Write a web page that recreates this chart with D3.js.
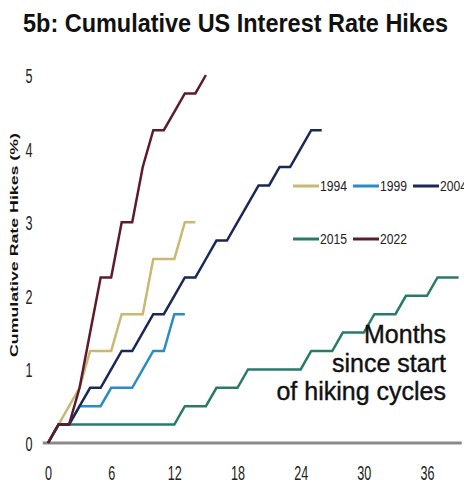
<!DOCTYPE html>
<html>
<head>
<meta charset="utf-8">
<script src="https://cdn.jsdelivr.net/npm/d3@7"></script>
<style>
  html, body { margin: 0; padding: 0; background: #fff; }
  svg { display: block; font-family: "Liberation Sans", Arial, sans-serif; }
</style>
</head>
<body>
<svg id="chart" width="464" height="488"></svg>
<script>
// Cumulative rate hikes (percentage points) by month since the first hike
const cycles = ["1994", "1999", "2004", "2015", "2022"];
const hikes1994 = [0, 0.25, 0.5, 0.75, 1.25, 1.25, 1.25, 1.75, 1.75, 1.75, 2.5, 2.5, 2.5, 3.0, 3.0];
const hikes1999 = [0, 0.25, 0.25, 0.5, 0.5, 0.5, 0.75, 0.75, 0.75, 1.0, 1.25, 1.25, 1.75, 1.75];
const hikes2004 = [0, 0.25, 0.25, 0.5, 0.75, 0.75, 1.0, 1.25, 1.25, 1.5, 1.75, 1.75, 2.0, 2.25,
                   2.25, 2.5, 2.75, 2.75, 3.0, 3.25, 3.5, 3.5, 3.75, 3.75, 4.0, 4.25, 4.25];
const hikes2015 = [0, 0.25, 0.25, 0.25, 0.25, 0.25, 0.25, 0.25, 0.25, 0.25, 0.25, 0.25, 0.25,
                   0.5, 0.5, 0.5, 0.75, 0.75, 0.75, 1.0, 1.0, 1.0, 1.0, 1.0, 1.0,
                   1.25, 1.25, 1.25, 1.5, 1.5, 1.5, 1.75, 1.75, 1.75, 2.0, 2.0, 2.0, 2.25, 2.25, 2.25];
const hikes2022 = [0, 0.25, 0.25, 0.75, 1.5, 2.25, 2.25, 3.0, 3.0, 3.75, 4.25, 4.25, 4.5, 4.75, 4.75, 5.0];
const xTicks = [0, 6, 12, 18, 24, 30, 36];
const yTicks = [0, 1, 2, 3, 4, 5];

const colors = {
  "1994": "#c9b872",
  "1999": "#2a8cc2",
  "2004": "#1a2858",
  "2015": "#2a7a68",
  "2022": "#5e1c2a"
};
const seriesByCycle = {
  "1994": hikes1994, "1999": hikes1999, "2004": hikes2004, "2015": hikes2015, "2022": hikes2022
};

const svg = d3.select("#chart");

const x = d3.scaleLinear().domain([0, 36]).range([48, 427]);
const y = d3.scaleLinear().domain([0, 5]).range([443, 75]);

// Title
svg.append("text")
  .attr("x", 23).attr("y", 32)
  .attr("font-size", 25).attr("font-weight", "bold")
  .attr("textLength", 425).attr("lengthAdjust", "spacingAndGlyphs")
  .attr("fill", "#111")
  .text("5b: Cumulative US Interest Rate Hikes");

// Y axis title
svg.append("text")
  .attr("transform", "translate(18,245) rotate(-90)")
  .attr("text-anchor", "middle")
  .attr("font-size", 11.5).attr("font-weight", "bold")
  .attr("textLength", 224).attr("lengthAdjust", "spacingAndGlyphs")
  .attr("fill", "#111")
  .text("Cumulative Rate Hikes (%)");

// Condensed digits for tick labels
const sx = 0.6;

// X axis
const gx = svg.append("g").attr("transform", `translate(0,${y(0)})`)
  .call(d3.axisBottom(x).tickValues(xTicks).tickSize(0).tickFormat(d3.format("d")));
gx.select(".domain").remove();
gx.selectAll("text")
  .attr("y", 37).attr("dy", 0)
  .attr("font-size", 21).attr("font-family", "Liberation Sans, Arial, sans-serif")
  .attr("fill", "#222")
  .attr("transform", `scale(${sx},1)`);

// Baseline of the x axis
svg.append("line")
  .attr("x1", x(-0.5)).attr("x2", x(39.3))
  .attr("y1", y(0)).attr("y2", y(0))
  .attr("stroke", "#8a8a8a").attr("stroke-width", 3);

// Y axis
const gy = svg.append("g").attr("transform", `translate(${x(0)},0)`)
  .call(d3.axisLeft(y).tickValues(yTicks).tickSize(0).tickFormat(d3.format("d")));
gy.select(".domain").remove();
gy.selectAll("text")
  .attr("text-anchor", "middle")
  .attr("x", -19 / sx).attr("dy", "0.36em")
  .attr("font-size", 21).attr("font-family", "Liberation Sans, Arial, sans-serif")
  .attr("fill", "#222")
  .attr("transform", `scale(${sx},1)`);

// Series lines
const line = d3.line().x((d, i) => x(i)).y(d => y(d));
const drawOrder = ["2015", "1994", "1999", "2004", "2022"];
svg.append("g").selectAll("path")
  .data(drawOrder)
  .join("path")
  .attr("d", c => line(seriesByCycle[c]))
  .attr("fill", "none")
  .attr("stroke", c => colors[c])
  .attr("stroke-width", 2.5);

// Legend
const legendPos = {
  "1994": [293, 186], "1999": [353, 186], "2004": [413, 186],
  "2015": [293, 239], "2022": [353, 239]
};
const lg = svg.append("g").selectAll("g")
  .data(cycles)
  .join("g")
  .attr("transform", c => `translate(${legendPos[c][0]},${legendPos[c][1]})`);
lg.append("line")
  .attr("x1", 0).attr("x2", 26)
  .attr("stroke", c => colors[c]).attr("stroke-width", 3);
lg.append("text")
  .attr("x", 27).attr("y", 5)
  .attr("font-size", 14.5)
  .attr("textLength", 27).attr("lengthAdjust", "spacingAndGlyphs")
  .attr("fill", "#222")
  .text(c => c);

// Annotation
const note = ["Months", "since start", "of hiking cycles"];
svg.append("g").selectAll("text")
  .data(note)
  .join("text")
  .attr("x", 446)
  .attr("y", (d, i) => 343 + i * 28.5)
  .attr("text-anchor", "end")
  .attr("font-size", 25)
  .attr("fill", "#111")
  .attr("stroke", "#111").attr("stroke-width", 0.4)
  .text(d => d);
</script>
</body>
</html>
